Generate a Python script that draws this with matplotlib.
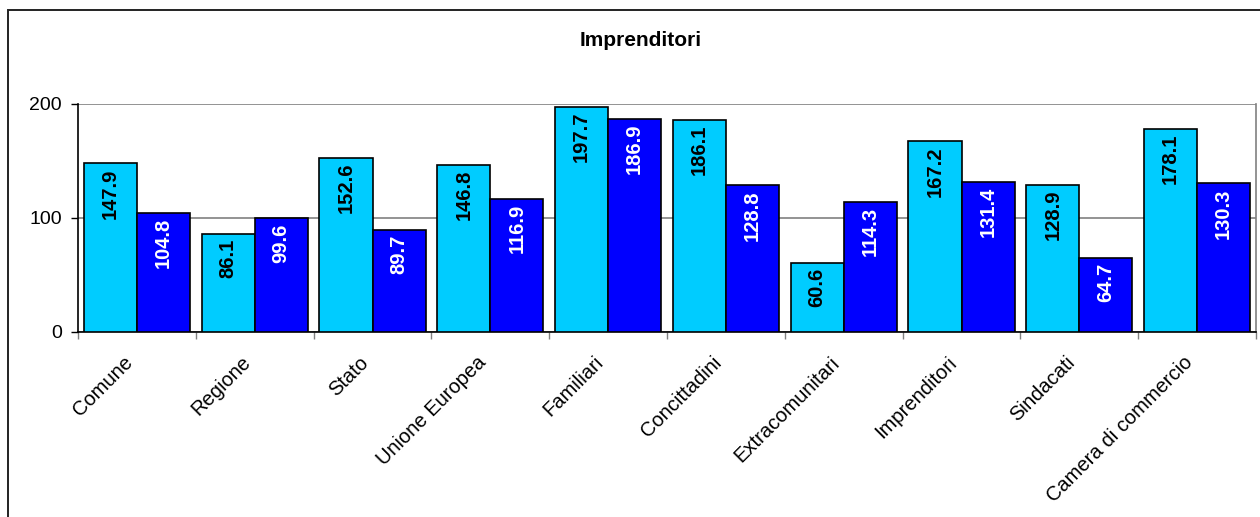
import matplotlib
matplotlib.use("Agg")
import matplotlib.pyplot as plt
import numpy as np
from matplotlib.patches import Rectangle
from matplotlib.transforms import ScaledTranslation

plt.rcParams['font.family'] = ['Liberation Sans', 'DejaVu Sans']

categories = ["Comune", "Regione", "Stato", "Unione Europea", "Familiari",
              "Concittadini", "Extracomunitari", "Imprenditori", "Sindacati",
              "Camera di commercio"]
series_a = [147.9, 86.1, 152.6, 146.8, 197.7, 186.1, 60.6, 167.2, 128.9, 178.1]
series_b = [104.8, 99.6, 89.7, 116.9, 186.9, 128.8, 114.3, 131.4, 64.7, 130.3]
title = "Imprenditori"

W, H = 1260, 517
fig = plt.figure(figsize=(W / 100, H / 100), dpi=100)
ax = fig.add_axes([78 / W, 1 - 332 / H, (1256 - 78) / W, (332 - 104) / H])

# outer chart border
fig.patches.append(Rectangle((8 / W, -0.1), 1.2, 1.1 - 10 / H, transform=fig.transFigure,
                             fill=False, edgecolor='#222222', linewidth=1.4, zorder=0))

x = np.arange(len(categories))
bw = 0.45
ba = ax.bar(x - bw / 2, series_a, bw, color='#00CCFF', edgecolor='black', linewidth=1.2, zorder=3)
bb = ax.bar(x + bw / 2, series_b, bw, color='#0000FF', edgecolor='black', linewidth=1.2, zorder=3)

for rect, v in zip(ba, series_a):
    ax.annotate(f"{v:.1f}", (rect.get_x() + rect.get_width() / 2, v), xytext=(0, -3.5),
                textcoords='offset points', rotation=90, ha='center', va='top',
                fontsize=14.5, fontweight='bold', color='black', zorder=4)
for rect, v in zip(bb, series_b):
    ax.annotate(f"{v:.1f}", (rect.get_x() + rect.get_width() / 2, v), xytext=(0, -3.5),
                textcoords='offset points', rotation=90, ha='center', va='top',
                fontsize=14.5, fontweight='bold', color='white', zorder=4)

ax.set_xlim(-0.5, len(categories) - 0.5)
ax.set_ylim(0, 200)
ax.set_yticks([0, 100, 200])
ax.tick_params(axis='y', labelsize=14, length=5, width=1, direction='out', pad=6.5)
ax.yaxis.grid(True, color='#808080', linewidth=1.2, zorder=0)
ax.set_axisbelow(True)

ax.set_xticks(x)
ax.set_xticklabels(categories, rotation=45, ha='right', rotation_mode='anchor', fontsize=14.5)
ax.tick_params(axis='x', which='major', length=0, pad=15)
off = ScaledTranslation(-14 / 100, 0, fig.dpi_scale_trans)
for lab in ax.get_xticklabels():
    lab.set_transform(lab.get_transform() + off)
ax.set_xticks(np.arange(-0.5, len(categories) + 0.5, 1), minor=True)
ax.tick_params(axis='x', which='minor', length=5, width=1, direction='out', color='#808080')

ax.spines['top'].set_visible(False)
ax.spines['right'].set_color('#808080')
ax.spines['right'].set_linewidth(1.2)
ax.spines['left'].set_linewidth(1.2)
ax.spines['bottom'].set_linewidth(1.2)

fig.text(641 / W, 1 - 40 / H, title, ha='center', va='center', fontsize=15, fontweight='bold')

fig.savefig("out.png", dpi=100)
